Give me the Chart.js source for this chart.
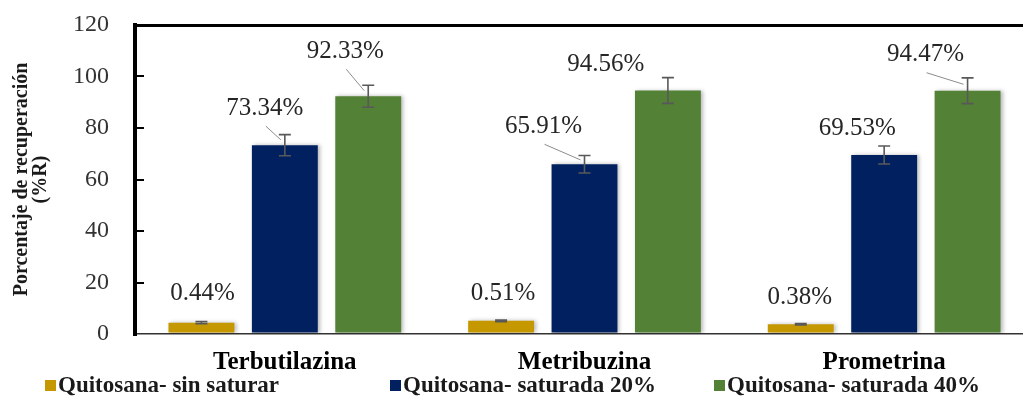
<!DOCTYPE html>
<html>
<head>
<meta charset="utf-8">
<script src="https://cdn.jsdelivr.net/npm/chart.js@4.4.1/dist/chart.umd.min.js"></script>
<style>
html, body { margin: 0; padding: 0; background: #fff; overflow: hidden; }
#wrap { width: 1023px; height: 406px; overflow: hidden; }
</style>
</head>
<body>
<div id="wrap"><canvas id="grafico" width="1034" height="406"></canvas></div>
<script>
// datos
var compuestos = ['Terbutilazina', 'Metribuzina', 'Prometrina'];
var series = ['Quitosana- sin saturar', 'Quitosana- saturada 20%', 'Quitosana- saturada 40%'];
var sinSaturar = [4.4, 5.1, 3.8];
var saturada20 = [73.34, 65.91, 69.53];
var saturada40 = [92.33, 94.56, 94.47];
var errSinSaturar = [0.4, 0.3, 0.3];
var err20 = [4.1, 3.4, 3.5];
var err40 = [4.3, 5.0, 5.0];
var etiqSinSaturar = ['0.44%', '0.51%', '0.38%'];
var etiq20 = ['73.34%', '65.91%', '69.53%'];
var etiq40 = ['92.33%', '94.56%', '94.47%'];
var ticksY = [0, 20, 40, 60, 80, 100, 120];

var colores = ['#C59800', '#002060', '#538135'];
var serif = '"Liberation Serif", "Times New Roman", serif';

// sombra suave de las barras
var sombra = {
  id: 'sombra',
  beforeDatasetsDraw: function(chart) {
    var ctx = chart.ctx;
    ctx.save();
    ctx.shadowColor = 'rgba(0,0,0,0.28)';
    ctx.shadowBlur = 4;
    ctx.shadowOffsetX = 2;
    ctx.shadowOffsetY = 0;
  },
  afterDatasetsDraw: function(chart) {
    chart.ctx.restore();
  }
};

// barras de error, etiquetas y marcas del eje
var extras = {
  id: 'extras',
  afterDatasetsDraw: function(chart, args, opts) {
    var ctx = chart.ctx;
    var ys = chart.scales.y;
    var area = chart.chartArea;
    ctx.save();
    // marcas interiores eje Y
    ctx.strokeStyle = '#000';
    ctx.lineWidth = 2;
    ticksY.forEach(function(v) {
      if (v === 0 || v === 120) return;
      var py = Math.round(ys.getPixelForValue(v));
      ctx.beginPath();
      ctx.moveTo(area.left, py);
      ctx.lineTo(area.left + 9, py);
      ctx.stroke();
    });
    chart.data.datasets.forEach(function(ds, i) {
      var meta = chart.getDatasetMeta(i);
      meta.data.forEach(function(bar, j) {
        var v = ds.data[j], e = ds.errores[j];
        var yTop = ys.getPixelForValue(v + e);
        var yBot = ys.getPixelForValue(v - e);
        ctx.strokeStyle = '#595959';
        ctx.lineWidth = 1.6;
        ctx.beginPath();
        ctx.moveTo(bar.x, yTop); ctx.lineTo(bar.x, yBot);
        ctx.moveTo(bar.x - 6, yTop); ctx.lineTo(bar.x + 6, yTop);
        ctx.moveTo(bar.x - 6, yBot); ctx.lineTo(bar.x + 6, yBot);
        ctx.stroke();
        // etiqueta
        var off = opts.desplaz[i][j];
        var lx = bar.x + off[0], ly = bar.y + off[1];
        ctx.fillStyle = '#262626';
        ctx.font = '25px ' + serif;
        ctx.textAlign = 'center';
        ctx.textBaseline = 'middle';
        ctx.fillText(ds.etiquetas[j], lx, ly);
        if (opts.guias[i][j]) {
          ctx.strokeStyle = '#8c8c8c';
          ctx.lineWidth = 1;
          ctx.beginPath();
          ctx.moveTo(lx + 1, ly + 18);
          ctx.lineTo(bar.x - 4, (yTop + bar.y) / 2);
          ctx.stroke();
        }
      });
    });
    ctx.restore();
  },
  afterDraw: function(chart, args, opts) {
    var ctx = chart.ctx;
    ctx.save();
    ctx.font = 'bold 23px ' + serif;
    ctx.textAlign = 'left';
    ctx.textBaseline = 'middle';
    chart.data.datasets.forEach(function(ds, i) {
      var x = opts.leyendaX[i], y = opts.leyendaY;
      ctx.fillStyle = ds.backgroundColor;
      ctx.fillRect(x, y - 6, 11, 11);
      ctx.fillStyle = '#1a1a1a';
      ctx.fillText(ds.label, x + 13, y);
    });
    ctx.restore();
  }
};

var conjuntos = [
  { label: series[0], data: sinSaturar, errores: errSinSaturar, etiquetas: etiqSinSaturar, backgroundColor: colores[0] },
  { label: series[1], data: saturada20, errores: err20, etiquetas: etiq20, backgroundColor: colores[1] },
  { label: series[2], data: saturada40, errores: err40, etiquetas: etiq40, backgroundColor: colores[2] }
];

new Chart(document.getElementById('grafico').getContext('2d'), {
  type: 'bar',
  data: { labels: compuestos, datasets: conjuntos },
  options: {
    responsive: false,
    animation: false,
    layout: { padding: { top: 25, right: 0, bottom: 14, left: 0 } },
    datasets: { bar: { categoryPercentage: 0.835, barPercentage: 0.79 } },
    plugins: {
      legend: { display: false },
      tooltip: { enabled: false },
      extras: {
        desplaz: [
          [[1, -29], [2, -27], [-1, -27]],
          [[-20, -37], [-41, -38], [-27, -27]],
          [[-23, -45], [-62, -26], [-42, -36]]
        ],
        guias: [
          [false, false, false],
          [true, true, false],
          [true, false, true]
        ],
        leyendaX: [45, 390, 714],
        leyendaY: 386
      }
    },
    scales: {
      x: {
        grid: { display: false, drawTicks: false },
        border: { display: true, color: '#333', width: 1.5 },
        ticks: { padding: 14, color: '#000', font: { family: serif, size: 25, weight: 'bold' } }
      },
      y: {
        min: 0, max: 120,
        afterBuildTicks: function(s) { s.ticks = ticksY.map(function(v) { return { value: v }; }); },
        afterFit: function(s) { s.width = 135; s.paddingTop = 0; s.paddingBottom = 0; },
        grid: {
          drawTicks: false,
          color: function(c) { return c.tick && c.tick.value === 120 ? '#000' : 'rgba(0,0,0,0)'; },
          lineWidth: 3
        },
        border: { display: true, color: '#000', width: 4 },
        ticks: { padding: 26, color: '#333', font: { family: serif, size: 24 } },
        title: {
          display: true,
          text: ['Porcentaje de recuperación', '(%R)'],
          color: '#1a1a1a',
          font: { family: serif, size: 20, weight: 'bold', lineHeight: 0.95 },
          padding: { top: 12, bottom: 0 }
        }
      }
    }
  },
  plugins: [sombra, extras]
});
</script>
</body>
</html>
